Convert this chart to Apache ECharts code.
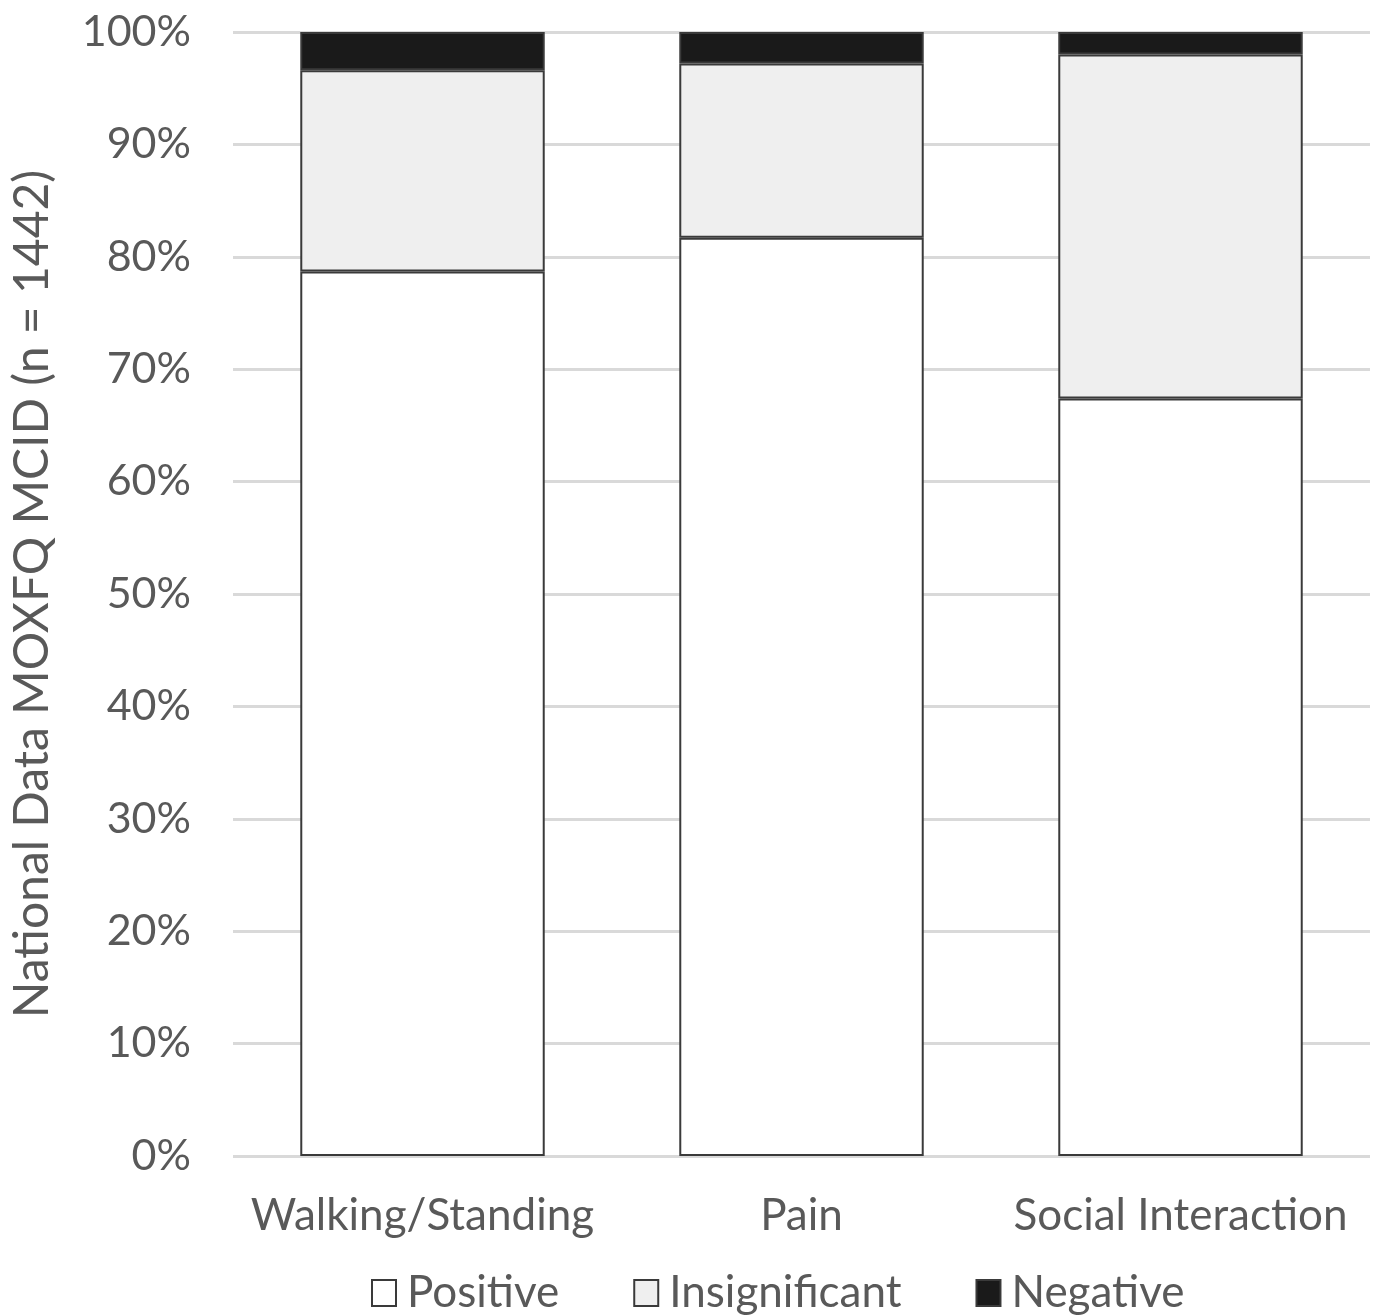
<!DOCTYPE html>
<html>
<head>
<meta charset="utf-8">
<script src="https://cdn.jsdelivr.net/npm/echarts@6/dist/echarts.min.js"></script>
<style>
  html, body { margin: 0; padding: 0; background: #fff; }
  #chart { width: 1377px; height: 1315px; }
</style>
</head>
<body>
<div id="chart"></div>
<script>
// MOXFQ MCID outcome shares per domain (percent of patients)
const categories = ['Walking/Standing', 'Pain', 'Social Interaction'];
const positive = [78.7, 81.7, 67.4];
const insignificant = [17.9, 15.5, 30.6];
const negative = [3.4, 2.8, 2.0];
const yTicks = [0, 10, 20, 30, 40, 50, 60, 70, 80, 90, 100];

const FONT = 'Lato, "Open Sans", sans-serif';
const TEXT = '#595959';

const barStyle = (fill) => ({ color: fill, borderColor: '#3a3a3a', borderWidth: 2 });

const chart = echarts.init(document.getElementById('chart'));
chart.setOption({
  animation: false,
  grid: { left: 233, right: 7, top: 32, bottom: 159 },
  legend: {
    top: 1266,
    left: 366,
    itemWidth: 24,
    itemHeight: 26,
    itemGap: 74,
    icon: 'rect',
    textStyle: { fontFamily: FONT, fontSize: 44, color: TEXT, padding: [0, 0, 0, 6] },
    data: ['Positive', 'Insignificant', 'Negative']
  },
  xAxis: {
    type: 'category',
    data: categories,
    axisLine: { show: false },
    axisTick: { show: false },
    axisLabel: { fontFamily: FONT, fontSize: 44, color: TEXT, margin: 38, interval: 0 }
  },
  yAxis: {
    type: 'value',
    min: yTicks[0],
    max: yTicks[yTicks.length - 1],
    interval: 10,
    name: 'National Data MOXFQ MCID (n = 1442)',
    nameLocation: 'middle',
    nameGap: 176,
    nameTextStyle: { fontFamily: FONT, fontSize: 48, color: TEXT },
    axisLine: { show: false },
    axisTick: { show: false },
    axisLabel: { fontFamily: FONT, fontSize: 43, color: TEXT, margin: 42, formatter: '{value}%' },
    splitLine: { lineStyle: { color: '#d9d9d9', width: 3 } }
  },
  series: [
    { name: 'Positive', type: 'bar', stack: 'all', barWidth: '64.5%', data: positive, itemStyle: barStyle('#ffffff') },
    { name: 'Insignificant', type: 'bar', stack: 'all', data: insignificant, itemStyle: barStyle('#efefef') },
    { name: 'Negative', type: 'bar', stack: 'all', data: negative, itemStyle: barStyle('#1a1a1a') }
  ]
});
</script>
</body>
</html>
